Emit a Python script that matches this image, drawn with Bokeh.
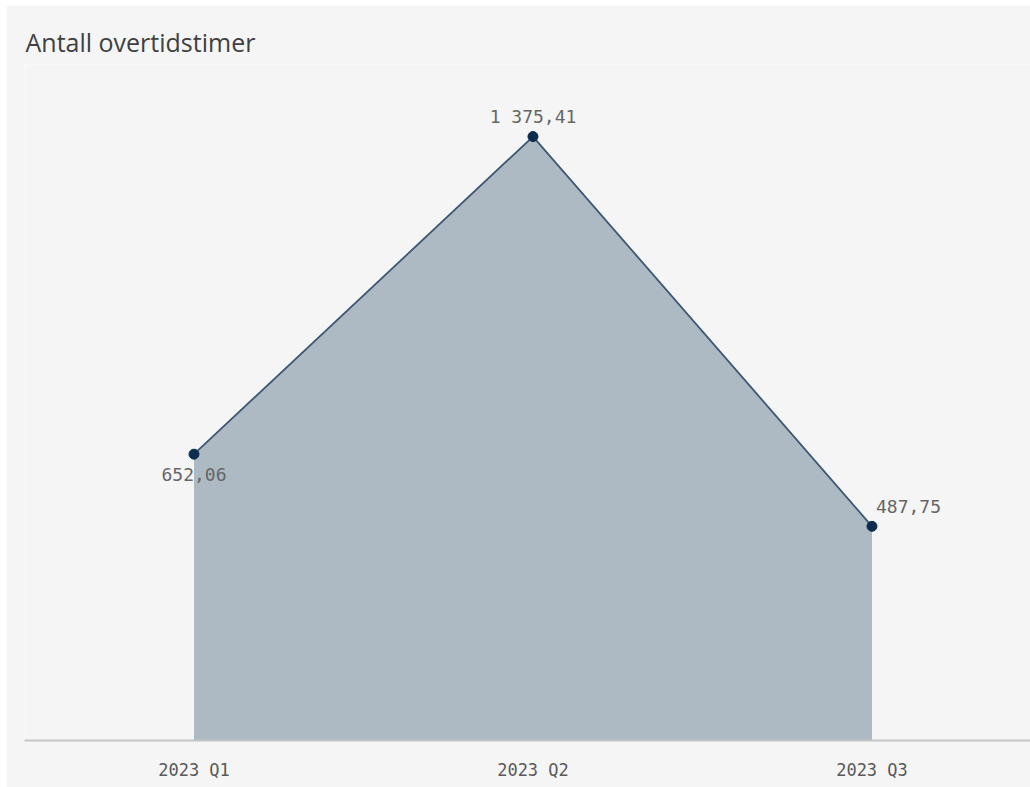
from bokeh.plotting import figure
from bokeh.models import ColumnDataSource, FixedTicker, Range1d
from bokeh.core.properties import value
from bokeh.embed import file_html
from bokeh.resources import INLINE

# ---- data ----
categories = ["2023 Q1", "2023 Q2", "2023 Q3"]
hours = [652.06, 1375.41, 487.75]
title_text = "Antall overtidstimer"

# ---- label styling (per point) ----
label_align = ["center", "center", "left"]
label_dx = [0, 0, 4]
label_dy = [20, -20, -20]


def fmt_no(v):
    s = f"{v:,.2f}"
    return s.replace(",", " ").replace(".", ",")


xs = list(range(len(categories)))
src = ColumnDataSource(dict(
    x=xs, y=hours, zero=[0] * len(hours),
    lbl=[fmt_no(v) for v in hours],
    align=label_align, dx=label_dx, dy=label_dy,
))

BG = "#f5f5f5"
p = figure(width=1024, height=782, output_backend="svg", toolbar_location=None,
           x_range=Range1d(-0.5, 2.4676), y_range=Range1d(0, 1539.5),
           title=title_text)
p.margin = (5, 0, 0, 6)
p.background_fill_color = BG
p.border_fill_color = BG
p.outline_line_color = None
p.min_border_left = 18
p.min_border_right = 0
p.min_border_bottom = 47
p.min_border_top = 59
p.xgrid.visible = False
p.ygrid.visible = False
p.yaxis.visible = False

p.title.text_font = "Open Sans"
p.title.text_font_size = "25px"
p.title.text_font_style = "normal"
p.title.text_color = "#404040"
p.title.offset = 1
p.title.standoff = 12

p.xaxis.ticker = FixedTicker(ticks=xs)
p.xaxis.major_label_overrides = {i: c for i, c in enumerate(categories)}
p.xaxis.major_tick_line_color = None
p.xaxis.minor_tick_line_color = None
p.xaxis.axis_line_color = "#c4c4c4"
p.xaxis.axis_line_width = 2
p.xaxis.major_label_standoff = 13
p.xaxis.major_label_text_font = "DejaVu Sans Mono"
p.xaxis.major_label_text_font_size = "17px"
p.xaxis.major_label_text_color = "#595959"

p.varea(x="x", y1="zero", y2="y", source=src, fill_color="#adb9c3", fill_alpha=1)
p.line(x="x", y="y", source=src, line_color="#3d5873", line_width=1.8)
p.scatter(x="x", y="y", source=src, size=10, fill_color="#0c2d50", line_color="#0c2d50")
p.text(x="x", y="y", text="lbl", source=src, x_offset="dx", y_offset="dy",
       text_align="align", text_baseline="middle",
       text_font=value("DejaVu Sans Mono"), text_font_size="18px", text_color="#666666")

open("out.html", "w").write(file_html(p, INLINE))
